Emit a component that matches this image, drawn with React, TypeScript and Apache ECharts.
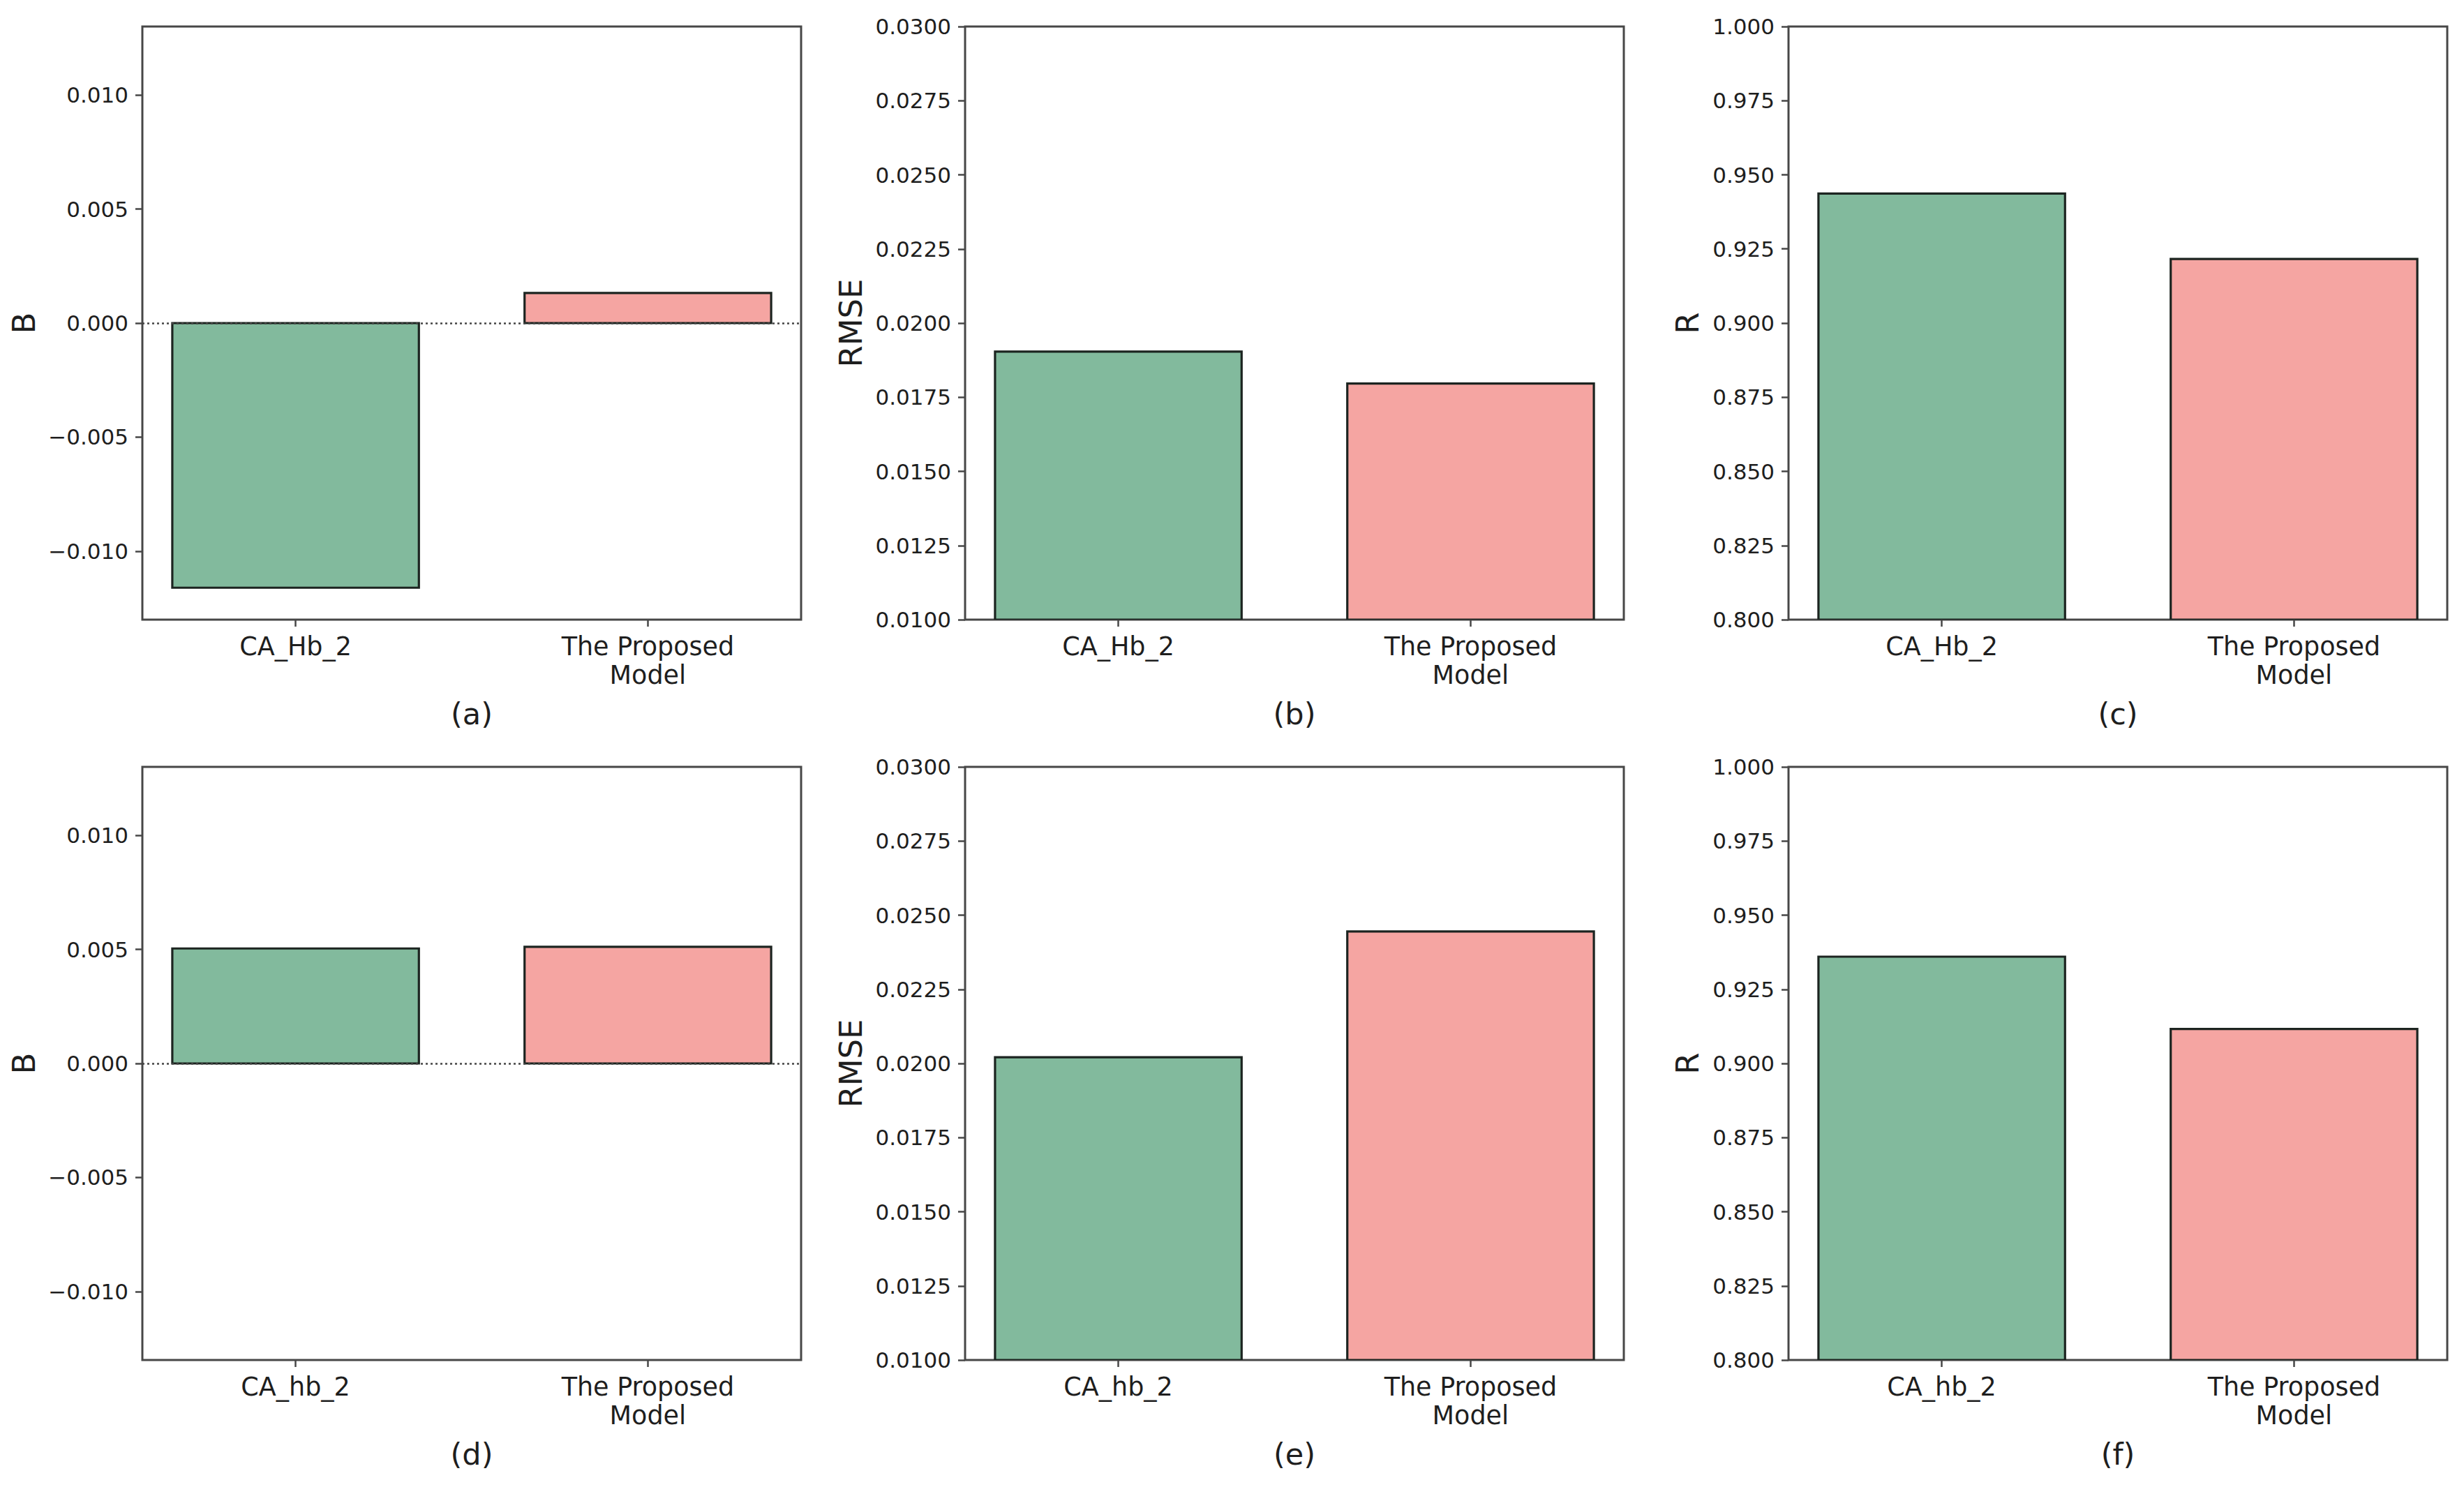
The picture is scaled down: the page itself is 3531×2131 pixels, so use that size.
import React, { useEffect, useRef } from "react";
import * as echarts from "echarts";

// ---------- data ----------
const categoriesTop = ["CA_Hb_2", "The Proposed\nModel"];
const categoriesBottom = ["CA_hb_2", "The Proposed\nModel"];

const bTop = [-0.0116, 0.00132];
const rmseTop = [0.01904, 0.01796];
const rTop = [0.9437, 0.9216];

const bBottom = [0.00504, 0.00511];
const rmseBottom = [0.02021, 0.02445];
const rBottom = [0.936, 0.9116];

const bTicks = [-0.01, -0.005, 0, 0.005, 0.01];
const rmseTicks = [0.01, 0.0125, 0.015, 0.0175, 0.02, 0.0225, 0.025, 0.0275, 0.03];
const rTicks = [0.8, 0.825, 0.85, 0.875, 0.9, 0.925, 0.95, 0.975, 1.0];

const barColors = ["#82BA9D", "#F5A5A2"];
const panelLabels = ["(a)", "(b)", "(c)", "(d)", "(e)", "(f)"];

// ---------- layout ----------
const W = 3531;
const H = 2131;
const gridLefts = [204, 1383, 2563];
const gridTops = [38, 1099];
const gridW = 944;
const gridH = 850;
const yNameX = [34, 1219, 2418];
const FONT = "DejaVu Sans";

type Panel = {
  cats: string[];
  values: number[];
  ticks: number[];
  min: number;
  max: number;
  base: number;
  digits: number;
  name: string;
  zero: boolean;
};

const panels: Panel[] = [
  { cats: categoriesTop, values: bTop, ticks: bTicks, min: -0.013, max: 0.013, base: 0, digits: 3, name: "B", zero: true },
  { cats: categoriesTop, values: rmseTop, ticks: rmseTicks, min: 0.01, max: 0.03, base: 0.01, digits: 4, name: "RMSE", zero: false },
  { cats: categoriesTop, values: rTop, ticks: rTicks, min: 0.8, max: 1.0, base: 0.8, digits: 3, name: "R", zero: false },
  { cats: categoriesBottom, values: bBottom, ticks: bTicks, min: -0.013, max: 0.013, base: 0, digits: 3, name: "B", zero: true },
  { cats: categoriesBottom, values: rmseBottom, ticks: rmseTicks, min: 0.01, max: 0.03, base: 0.01, digits: 4, name: "RMSE", zero: false },
  { cats: categoriesBottom, values: rBottom, ticks: rTicks, min: 0.8, max: 1.0, base: 0.8, digits: 3, name: "R", zero: false },
];

function buildOption() {
  const grid: any[] = [];
  const xAxis: any[] = [];
  const yAxis: any[] = [];
  const series: any[] = [];
  const graphic: any[] = [];

  panels.forEach((p, i) => {
    const col = i % 3;
    const row = Math.floor(i / 3);
    const left = gridLefts[col];
    const top = gridTops[row];
    grid.push({
      left,
      top,
      width: gridW,
      height: gridH,
      show: true,
      borderColor: "#474747",
      borderWidth: 3,
      backgroundColor: "transparent",
      containLabel: false,
    });
    xAxis.push({
      type: "value",
      gridIndex: i,
      position: "bottom",
      min: -0.435,
      max: 1.435,
      splitLine: { show: false },
      axisLine: { show: false, onZero: false },
      axisTick: {
        show: true,
        customValues: [0, 1],
        length: 10,
        lineStyle: { color: "#474747", width: 2.5 },
      },
      axisLabel: {
        show: true,
        customValues: [0, 1],
        formatter: (v: number) => p.cats[Math.round(v)] ?? "",
        fontFamily: FONT,
        fontSize: 36.5,
        lineHeight: 41,
        color: "#1e1e1e",
        margin: 18,
        align: "center",
      },
    });
    yAxis.push({
      type: "value",
      gridIndex: i,
      position: "left",
      min: p.min,
      max: p.max,
      splitLine: { show: false },
      axisLine: { show: false, onZero: false },
      axisTick: {
        show: true,
        customValues: p.ticks,
        length: 10,
        lineStyle: { color: "#474747", width: 2.5 },
      },
      axisLabel: {
        show: true,
        customValues: p.ticks,
        formatter: (v: number) => v.toFixed(p.digits).replace("-", "\u2212"),
        fontFamily: FONT,
        fontSize: 31,
        color: "#1e1e1e",
        margin: 20,
      },
    });
    const s: any = {
      type: "custom",
      xAxisIndex: i,
      yAxisIndex: i,
      clip: true,
      encode: { x: 0, y: 1 },
      data: p.values.map((v, k) => [k, v]),
      renderItem: (params: any, api: any) => {
        const x = api.value(0) as number;
        const y = api.value(1) as number;
        const p1 = api.coord([x - 0.35, y]);
        const p2 = api.coord([x + 0.35, p.base]);
        const rx = Math.min(p1[0], p2[0]);
        const ry = Math.min(p1[1], p2[1]);
        return {
          type: "rect",
          shape: {
            x: rx,
            y: ry,
            width: Math.abs(p2[0] - p1[0]),
            height: Math.abs(p2[1] - p1[1]),
          },
          style: {
            fill: barColors[params.dataIndex % barColors.length],
            stroke: "#1c2420",
            lineWidth: 3.2,
          },
        };
      },
    };
    if (p.zero) {
      s.markLine = {
        silent: true,
        symbol: ["none", "none"],
        label: { show: false },
        lineStyle: { type: [3, 4], color: "#444", width: 2.5 },
        data: [{ yAxis: 0 }],
      };
    }
    series.push(s);

    // y-axis name
    graphic.push({
      type: "text",
      x: yNameX[col],
      y: top + gridH / 2,
      rotation: Math.PI / 2,
      style: {
        text: p.name,
        font: `45px "${FONT}"`,
        fill: "#1e1e1e",
        align: "center",
        verticalAlign: "middle",
        textAlign: "center",
        textVerticalAlign: "middle",
      },
    });
    // panel label
    graphic.push({
      type: "text",
      x: left + gridW / 2,
      y: top + gridH + 135,
      style: {
        text: panelLabels[i],
        font: `43px "${FONT}"`,
        fill: "#1e1e1e",
        align: "center",
        verticalAlign: "middle",
        textAlign: "center",
        textVerticalAlign: "middle",
      },
    });
  });

  return {
    animation: false,
    backgroundColor: "#ffffff",
    textStyle: { fontFamily: FONT },
    grid,
    xAxis,
    yAxis,
    series,
    graphic,
  };
}

export default function App() {
  const ref = useRef<HTMLDivElement>(null);
  useEffect(() => {
    if (!ref.current) return;
    const chart = echarts.init(ref.current, undefined, { renderer: "svg" });
    chart.setOption(buildOption() as any);
    return () => chart.dispose();
  }, []);
  return (
    <div
      ref={ref}
      style={{ position: "absolute", left: 0, top: 0, width: W, height: H, background: "#fff" }}
    />
  );
}
